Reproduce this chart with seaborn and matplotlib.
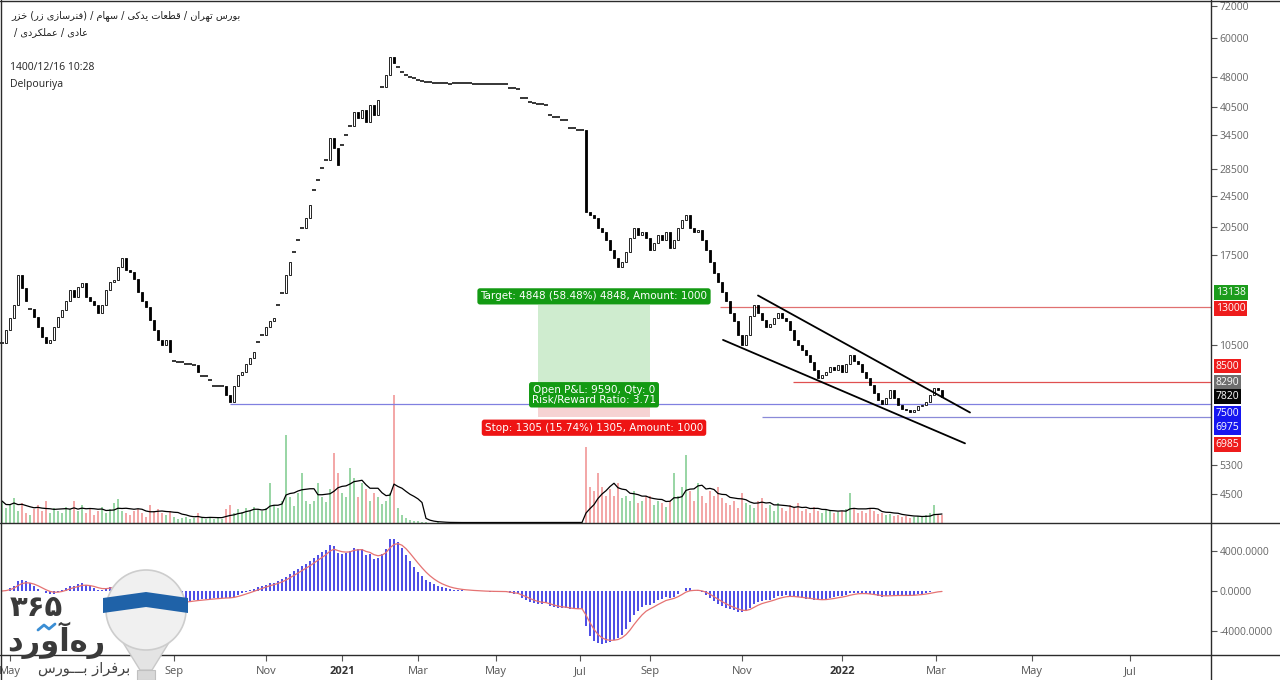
import numpy as np
import pandas as pd
import matplotlib
matplotlib.use("Agg")
import matplotlib.pyplot as plt
import seaborn as sns
from matplotlib.lines import Line2D
from matplotlib.patches import Rectangle, Ellipse, Polygon
from matplotlib.ticker import NullLocator

# ---------------- data (one bar ~ two trading days) ----------------
closes = [
    10600, 11400, 12200, 13200, 15600, 14500, 13500, 12900, 12300, 11600,
    11000, 10600, 10800, 11600, 12300, 12800, 13500, 14300, 13800, 14600,
    14900, 13800, 13500, 13200, 12600, 13200, 14300, 15000, 15200, 16300,
    17200, 16100, 15900, 15300, 14200, 13500, 13000, 12100, 11400, 10800,
    10500, 10800, 10100, 9600, 9500, 9500, 9400, 9400, 9350, 9000,
    8800, 8800, 8600, 8300, 8300, 8300, 7900, 7600,
    8300, 8850, 9000, 9400, 9750, 10100, 10700, 11100, 11600, 12000,
    12200, 13200, 14100, 15600, 16800, 17800, 19100, 20400, 21600, 23200,
    25300, 26800, 28700, 30000, 34000, 32100, 29200, 32700, 34600, 36400,
    39500, 38200, 39900, 37300, 41000, 38800, 42200, 45500, 48600, 54000, 52000,
    50800, 49500, 48600, 48000, 47700, 47300, 47000, 46700, 46700, 46600,
    46500, 46500, 46500, 46200, 46500, 46400, 46400, 46400, 46400, 46300,
    46300, 46200, 46200, 46200, 46200, 46200, 46100, 46100, 45100, 45100,
    45000, 42800, 42700, 41700, 41600, 41200, 41200, 41000, 38800, 38300,
    38300, 37700, 37600, 36000, 35900, 35600, 35500,
    22300, 22000, 21600, 20400, 19900, 19100, 18000, 17200, 16300, 16800,
    17800, 19300, 20400, 19600, 19900, 19300, 18000, 18700, 19600, 19100,
    19900, 18200, 19100, 20400, 21300, 22000, 20400, 19900, 20200, 19100,
    18000, 16800, 15800, 15000,
    14200, 13500, 12600, 12000, 11100, 10500, 11100, 12400, 13200, 12600,
    12100, 11600, 11800, 12200, 12600, 12200, 12000, 11400, 10800, 10500,
    10200, 9900, 9500, 9100, 8700, 8850, 9000, 9250, 9100, 9350,
    9000, 9400, 9900, 9600, 9400, 9000, 8700, 8360, 8000, 7670,
    7500, 7750, 8120, 7750, 7460, 7300, 7250, 7150, 7250, 7400,
    7460, 7600, 7900, 8200, 8120, 7820,
]
# bars traded at a single price all day (drawn as dashes)
one_price_bars = [7, 43, 44, 45, 46, 47, 48, 50, 51, 52, 53, 54, 55, 64, 65, 69, 70, 73, 74, 75,
                  78, 79, 80, 81, 85, 86, 87, 95] + list(range(99, 146))
volumes = [
    22, 15, 18, 25, 12, 20, 10, 8, 14, 18, 12, 22, 10, 15, 12,
    10, 16, 14, 22, 12, 18, 10, 14, 8, 12, 16, 10, 14, 20, 24, 12,
    10, 8, 12, 14, 10, 6, 18, 12, 14, 10, 8, 12, 6, 4, 5, 6, 4, 5, 10, 5, 4, 6, 4, 5, 4, 14, 18,
    10, 14, 11, 15, 12, 16, 14, 12, 15, 40, 18, 15, 22, 88, 26, 17, 30, 50, 22, 19,
    22, 40, 26, 21, 34, 70, 50, 30, 26, 55, 45, 26, 40, 34, 22, 30, 26, 19, 22, 30, 128,
    15, 8, 5, 3, 2, 2, 1, 1,
    0.5, 0.4, 0.6, 0.5, 0.3, 0.5, 0.4, 0.5, 0.6, 0.4, 0.5, 0.3, 0.5, 0.4, 0.5, 0.5, 0.6, 0.4, 0.5, 0.3,
    0.5, 0.4, 0.5, 0.6, 0.5, 0.4, 0.5, 0.5, 0.3, 0.5, 0.4, 0.6, 0.5, 0.4, 0.5, 0.5, 0.6, 0.4, 0.8,
    76, 36, 32, 50, 36, 27, 34, 27, 40, 25, 27, 22, 32, 20, 22, 27, 27, 18, 22, 20,
    16, 22, 50, 27, 36, 68, 32, 22, 40, 27, 20, 32, 27, 36,
    25, 20, 18, 22, 15, 30, 20, 18, 15, 22, 25, 15, 18, 12, 20, 15, 12, 18, 15, 20,
    12, 14, 10, 16, 12, 10, 14, 12, 10, 11, 12, 14, 30, 14, 10, 12, 10, 15, 12, 9,
    10, 8, 9, 7, 8, 6, 7, 5, 6, 7, 6, 8, 10, 18, 9, 8,
]
month_labels = ["May", "Sep", "Nov", "2021", "Mar", "May", "Jul", "Sep", "Nov", "2022", "Mar", "May", "Jul"]
month_bars = [2, 43, 66, 85, 104, 123.5, 144.5, 162, 185, 210, 233.5, 257.5, 282]
price_ticks = [72000, 60000, 48000, 40500, 34500, 28500, 24500, 20500, 17500, 10500, 5300, 4500]
macd_ticks = [4000, 0, -4000]

level_prices = [13000, 8500, 7500, 6975]
level_start_bars = [179.5, 197.75, 57, 190]
level_colors = ["#e07070", "#e05050", "#8080e0", "#8a8ad8"]

upper_channel_bars = [189, 242]
upper_channel_prices = [13900, 7150]
lower_channel_bars = [180.25, 240.75]
lower_channel_prices = [10800, 6000]

pos_bars = [134, 162]
pos_entry, pos_target, pos_stop = 8290, 13138, 6985
target_text = "Target: 4848 (58.48%) 4848, Amount: 1000"
pnl_text = "Open P&L: 9590, Qty: 0\nRisk/Reward Ratio: 3.71"
stop_text = "Stop: 1305 (15.74%) 1305, Amount: 1000"

badge_values = [13138, 13000, 8500, 8290, 7820, 7500, 6975, 6985]
badge_colors = ["#1c9c1c", "#ee1c1c", "#ee1c1c", "#6e6e6e", "#050505", "#1616f0", "#1616f0", "#ee1c1c"]
badge_shift_px = [-13, 1, -16, -4, 0, 9, 11, 28]

header_line1 = "بورس تهران / قطعات یدکی / سهام / (فنرسازی زر) خزر"
header_line2 = "عادی / عملکردی /"
header_date = "1400/12/16 10:28"
header_author = "Delpouriya"
logo_digits = "۳۶۵"
logo_name = "ره\u200cآورد"
logo_tag = "برفراز بـــورس"

# ---------------- simple Persian shaping for display ----------------
FORMS = {
    'ا': ('\uFE8D', '\uFE8E', None, None), 'آ': ('\uFE81', '\uFE82', None, None),
    'ب': ('\uFE8F', '\uFE90', '\uFE91', '\uFE92'), 'ت': ('\uFE95', '\uFE96', '\uFE97', '\uFE98'),
    'خ': ('\uFEA5', '\uFEA6', '\uFEA7', '\uFEA8'), 'د': ('\uFEA9', '\uFEAA', None, None),
    'ر': ('\uFEAD', '\uFEAE', None, None), 'ز': ('\uFEAF', '\uFEB0', None, None),
    'س': ('\uFEB1', '\uFEB2', '\uFEB3', '\uFEB4'), 'ط': ('\uFEC1', '\uFEC2', '\uFEC3', '\uFEC4'),
    'ع': ('\uFEC9', '\uFECA', '\uFECB', '\uFECC'), 'ف': ('\uFED1', '\uFED2', '\uFED3', '\uFED4'),
    'ق': ('\uFED5', '\uFED6', '\uFED7', '\uFED8'), 'ل': ('\uFEDD', '\uFEDE', '\uFEDF', '\uFEE0'),
    'م': ('\uFEE1', '\uFEE2', '\uFEE3', '\uFEE4'), 'ن': ('\uFEE5', '\uFEE6', '\uFEE7', '\uFEE8'),
    'ه': ('\uFEE9', '\uFEEA', '\uFEEB', '\uFEEC'), 'و': ('\uFEED', '\uFEEE', None, None),
    'ی': ('\uFBFC', '\uFBFD', '\uFBFE', '\uFBFF'), 'ک': ('\uFB8E', '\uFB8F', '\uFB90', '\uFB91'),
    'ـ': ('ـ', 'ـ', 'ـ', 'ـ'),
}


def rtl(text):
    out = []
    for k, ch in enumerate(text):
        if ch not in FORMS:
            out.append(ch)
            continue
        f = FORMS[ch]
        prev = text[k - 1] if k > 0 else None
        nxt = text[k + 1] if k + 1 < len(text) else None
        jp = prev in FORMS and FORMS[prev][2] is not None
        jn = nxt in FORMS and f[2] is not None
        out.append(f[3] if (jp and jn) else f[1] if jp else f[2] if jn else f[0])
    mirror = {'(': ')', ')': '('}
    return ''.join(mirror.get(ch, ch) for ch in reversed(out) if ch != '\u200c')


# ---------------- figure ----------------
sns.set_theme(style="white")
plt.rcParams['font.family'] = ['Open Sans', 'DejaVu Sans']
W, H = 1280, 680
fig = plt.figure(figsize=(12.8, 6.8), dpi=100)
fig.patch.set_facecolor("white")


def rect(x0, y0, x1, y1):
    return [x0 / W, 1 - y1 / H, (x1 - x0) / W, (y1 - y0) / H]


def fx(px):
    return px / W


def fy(py):
    return 1 - py / H


ax_vol = fig.add_axes(rect(0, 0, 1211, 523))
ax = fig.add_axes(rect(0, 0, 1211, 523), sharex=ax_vol)
ax.patch.set_alpha(0)
ax_macd = fig.add_axes(rect(0, 523, 1211, 655), sharex=ax_vol)
XMAX = 302.25
ax_macd.set_xlim(-0.5, XMAX)

n = len(closes)
x = np.arange(n)
c = np.array(closes, dtype=float)
o = np.r_[c[0], c[:-1]]
o[one_price_bars] = c[one_price_bars]
up = c >= o
lo = np.minimum(o, c)
hi = np.maximum(o, c)
flat = (hi - lo) / lo < 0.004

# ---- volume (overlay at bottom of price pane) ----
vol = np.array(volumes[:n], dtype=float)
vcol = np.where(up, "#9ad6a6", "#f3a8a8")
ax_vol.bar(x, vol, width=0.5, color=vcol, linewidth=0, zorder=2)
vol_ma = pd.Series(vol).rolling(8, min_periods=1).mean()
sns.lineplot(x=x, y=vol_ma.values, ax=ax_vol, color="black", lw=0.9, zorder=3)
ax_vol.set_ylim(0, 523)
ax_vol.set_yticks([])
ax_vol.tick_params(axis="x", bottom=False, labelbottom=False)

# ---- price pane ----
ax.set_yscale("log")
ax.set_ylim(3816, 74500)
m = ~flat & up
ax.bar(x[m], (hi - lo)[m], bottom=lo[m], width=0.62, color="white", edgecolor="black", linewidth=0.6, zorder=4)
m = ~flat & ~up
ax.bar(x[m], (hi - lo)[m], bottom=lo[m], width=0.62, color="black", edgecolor="black", linewidth=0.6, zorder=4)
ax.hlines(c[flat], x[flat] - 0.42, x[flat] + 0.42, color="black", lw=1.1, zorder=4)

# position tool
ax.add_patch(Rectangle((pos_bars[0], pos_entry), pos_bars[1] - pos_bars[0], pos_target - pos_entry,
                       fc="#cfeccf", ec="none", zorder=1))
ax.add_patch(Rectangle((pos_bars[0], pos_stop), pos_bars[1] - pos_bars[0], pos_entry - pos_stop,
                       fc="#f6d3d3", ec="none", zorder=1))

# horizontal levels
for p, s, col in zip(level_prices, level_start_bars, level_colors):
    ax.hlines(p, s, XMAX, color=col, lw=0.9, zorder=2)

# channel
sns.lineplot(x=upper_channel_bars, y=upper_channel_prices, ax=ax, color="black", lw=1.3, zorder=5)
sns.lineplot(x=lower_channel_bars, y=lower_channel_prices, ax=ax, color="black", lw=1.3, zorder=5)

xc = float(np.mean(pos_bars))
box_kw = dict(fontsize=7.5, family=["DejaVu Sans"], color="white", ha="center", va="center",
              textcoords="offset points", zorder=8, annotation_clip=False)
ax.annotate(target_text, (xc, pos_target), xytext=(0, 6.5),
            bbox=dict(boxstyle="round,pad=0.3,rounding_size=0.25", fc="#139a13", ec="none"), **box_kw)
ax.annotate(pnl_text, (xc, pos_entry), xytext=(0, -6), linespacing=0.95,
            bbox=dict(boxstyle="round,pad=0.28,rounding_size=0.25", fc="#139a13", ec="none"), **box_kw)
ax.annotate(stop_text, (xc, pos_stop), xytext=(0, -8),
            bbox=dict(boxstyle="round,pad=0.3,rounding_size=0.25", fc="#ee1414", ec="none"), **box_kw)

# right axis ticks
ax.yaxis.tick_right()
ax.set_yticks(price_ticks)
ax.set_yticklabels([str(v) for v in price_ticks])
ax.yaxis.set_minor_locator(NullLocator())
ax.tick_params(axis="y", right=True, length=4, width=0.8, color="#555555", labelcolor="#666666",
               labelsize=7.5, pad=2)
ax.tick_params(axis="x", bottom=False, labelbottom=False)

# badges
for v, col, sh in zip(badge_values, badge_colors, badge_shift_px):
    ax.annotate(str(v), (1, v), xycoords=ax.get_yaxis_transform(), xytext=(3.5, -sh * 0.72),
                textcoords="offset points", ha="left", va="center", fontsize=7.5, color="white",
                bbox=dict(boxstyle="square,pad=0.18", fc=col, ec="none"), zorder=9, annotation_clip=False)

# ---- MACD pane ----
s = pd.Series(c)
macd = s.ewm(span=6, adjust=False).mean() - s.ewm(span=13, adjust=False).mean()
signal = macd.ewm(span=4.5, adjust=False).mean()
ax_macd.bar(x, macd.values, width=0.45, color="#4f4fe6", linewidth=0, zorder=2)
sns.lineplot(x=x, y=signal.values, ax=ax_macd, color="#e57373", lw=0.9, zorder=3)
ax_macd.set_ylim(-6400, 6800)
ax_macd.yaxis.tick_right()
ax_macd.set_yticks(macd_ticks)
ax_macd.set_yticklabels([f"{v:.4f}" for v in macd_ticks])
ax_macd.tick_params(axis="y", right=True, length=4, width=0.8, color="#555555", labelcolor="#666666",
                    labelsize=7.5, pad=2)
ax_macd.set_xticks(month_bars)
ax_macd.set_xticklabels(month_labels)
ax_macd.tick_params(axis="x", bottom=True, length=4, width=0.8, color="#555555", labelcolor="#555555",
                    labelsize=8, pad=4)
for lab in ax_macd.get_xticklabels():
    if lab.get_text() in ("2021", "2022"):
        lab.set_fontweight("bold")
        lab.set_color("#333333")
ax_macd.set_xlabel("")
ax_macd.set_ylabel("")
ax.set_ylabel("")
ax_vol.set_ylabel("")

for a in (ax, ax_vol, ax_macd):
    for sp in a.spines.values():
        sp.set_visible(False)

# pane borders
for (x0, y0, x1, y1) in [(0, 523, W, 523), (0, 655, W, 655), (1211, 0, 1211, H), (0, 0.5, W, 0.5), (0.5, 0, 0.5, H)]:
    fig.add_artist(Line2D([fx(x0), fx(x1)], [fy(y0), fy(y1)], transform=fig.transFigure,
                          color="#2b2b2b", lw=1.0, zorder=30))

# header
fig.text(fx(11), fy(16), rtl(header_line1), fontsize=7, family=["DejaVu Sans"], color="#222222", va="center")
fig.text(fx(14), fy(32), rtl(header_line2), fontsize=7, family=["DejaVu Sans"], color="#222222", va="center")
fig.text(fx(10), fy(68), header_date, fontsize=7.5, color="#222222", va="center")
fig.text(fx(10), fy(85), header_author, fontsize=7.5, color="#222222", va="center")

# logo watermark
T = fig.transFigure
fig.add_artist(Polygon([(fx(114), fy(628)), (fx(178), fy(628)), (fx(152), fy(670)), (fx(140), fy(670))],
                       closed=True, transform=T, fc="#e4e4e4", ec="#c8c8c8", lw=1.0, zorder=40))
fig.add_artist(Rectangle((fx(137), fy(680)), 18 / W, 10 / H, transform=T, fc="#d8d8d8", ec="#c0c0c0",
                         lw=0.8, zorder=40))
fig.add_artist(Ellipse((fx(146), fy(610)), 80 / W, 80 / H, transform=T, fc="#f0f0f0", ec="#cdcdcd",
                       lw=1.2, zorder=41))
fig.add_artist(Polygon([(fx(103), fy(598)), (fx(146), fy(592)), (fx(188), fy(598)), (fx(188), fy(613)),
                        (fx(146), fy(607)), (fx(103), fy(613))], closed=True, transform=T,
                       fc="#1f62a8", ec="none", zorder=42))
fig.text(fx(36), fy(608), logo_digits, transform=T, fontsize=21, fontweight="bold",
         family=["DejaVu Sans"], color="#3a3a3a", ha="center", va="center", zorder=43)
fig.text(fx(56), fy(640), rtl(logo_name), transform=T, fontsize=22, fontweight="bold",
         family=["DejaVu Sans"], color="#3a3a3a", ha="center", va="center", zorder=43)
fig.add_artist(Line2D([fx(38), fx(44), fx(49), fx(55)], [fy(630), fy(625), fy(629), fy(624)],
                      transform=T, color="#3b8ed4", lw=2.0, zorder=44))
fig.text(fx(84), fy(668), rtl(logo_tag), transform=T, fontsize=10.5, family=["DejaVu Sans"],
         color="#444444", ha="center", va="center", zorder=43)

fig.savefig("out.png", dpi=100, facecolor="white")
